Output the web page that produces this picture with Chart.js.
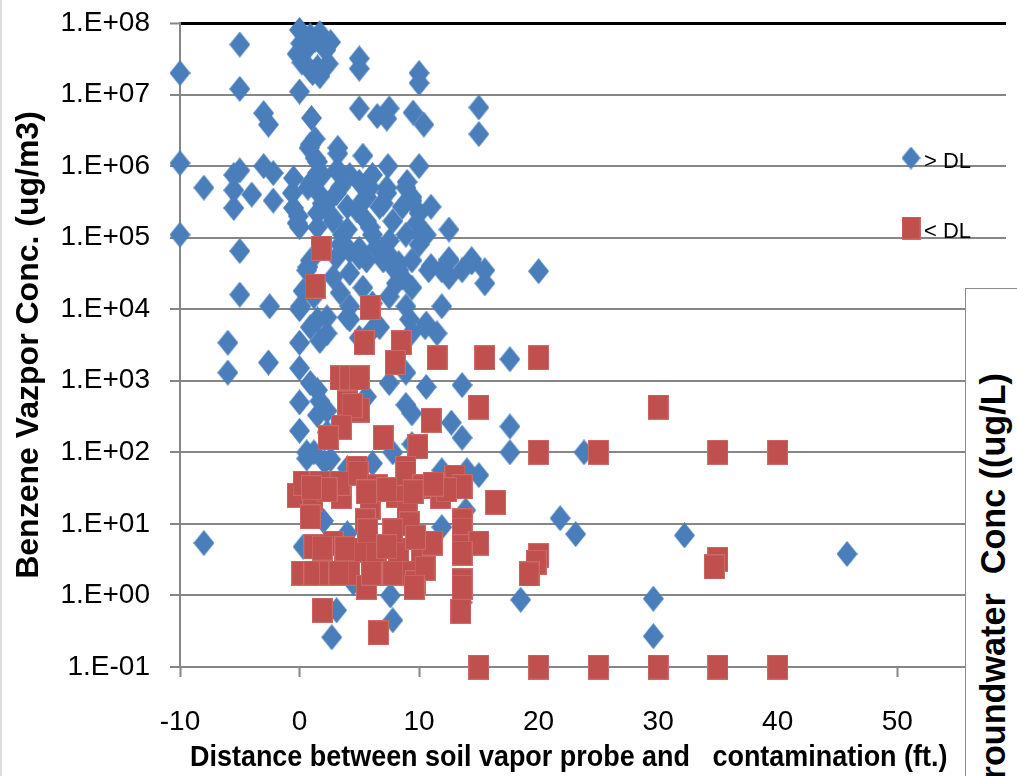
<!DOCTYPE html>
<html>
<head>
<meta charset="utf-8">
<script src="https://cdn.jsdelivr.net/npm/chart.js@4.4.1/dist/chart.umd.min.js"></script>
<style>
  html, body { margin: 0; padding: 0; background: #fff; overflow: hidden; }
  #wrap { position: relative; width: 1017px; height: 776px; border-left: 2px solid #dcdcdc; box-sizing: border-box; }
  #chart { position: absolute; left: 0; top: 0; }
  #xtitle {
    position: absolute; left: 188px; top: 738px;
    font: bold 30px 'Liberation Sans', sans-serif;
    white-space: pre; line-height: 36px; color: #000;
    transform-origin: 0 0;
  }
  #gwbox {
    position: absolute; left: 963px; top: 288px; width: 80px; height: 520px;
    border: 1.5px solid #8c8c8c; background: #fff; overflow: hidden;
  }
  #gwtitle {
    position: absolute; left: 10px; top: 784px; width: 700px;
    transform-origin: 0 0; transform: rotate(-90deg);
    text-align: right; white-space: pre;
    font: bold 34.2px 'Liberation Sans', sans-serif; line-height: 34px; color: #000;
  }
</style>
</head>
<body>
<div id="wrap">
  <canvas id="chart" width="1015" height="776"></canvas>
  <div id="xtitle">Distance between soil vapor probe and   contamination (ft.)</div>
  <div id="gwbox"><div id="gwtitle">Groundwater  Conc ((ug/L)</div></div>
</div>
<script>
// --- Data: [distance (ft), benzene vapor conc (ug/m3)] ---
const aboveDL = [
  [-10, 2e7], [-5, 5e7], [-5, 1.2e7], [-3, 5.5e6], [-2.6, 3.8e6],
  [0, 8e7], [0.1, 5.2e7], [-0.2, 3.7e7], [0.9, 6.7e7], [1.7, 7.2e7], [2.6, 5.4e7],
  [1.5, 2.4e7], [2.4, 2.7e7], [1.1, 2e7], [1.7, 1.8e7], [0.9, 2.2e7], [0, 1.1e7],
  [0.6, 4.3e7], [1.3, 5.8e7], [2.2, 4.2e7], [0.2, 2.8e7],
  [5, 3.2e7], [5, 2.3e7], [10, 2e7], [10, 1.45e7],
  [1, 4.7e6], [5, 6.4e6], [6.5, 5e6], [7.5, 6.4e6], [7.3, 4.6e6], [9.5, 5.6e6],
  [10.4, 3.8e6], [15, 6.6e6], [15, 2.8e6],
  [1.3, 2.4e6], [0.8, 1.8e6], [3.2, 1.8e6], [5.3, 1.4e6], [7.4, 1e6], [10, 1e6],
  [0.9, 2e6], [1.5, 1.15e6], [1.3, 1.3e6], [3.2, 1.5e6],
  [-10, 1.1e6], [-8, 5e5], [-5.5, 7.5e5], [-5, 8.7e5], [-5.5, 4.6e5], [-4, 4e5],
  [-5.5, 2.6e5], [-3, 1e6], [-2.2, 8e5], [-2.2, 3.3e5], [-10, 1.1e5], [-5, 6.5e4],
  [-0.5, 6.8e5], [-0.6, 4.2e5], [-0.5, 2.6e5], [-0.2, 1.6e5], [0.7, 5e5], [1.5, 8e5],
  [1.6, 4.2e5], [1.5, 2.2e5], [2.3, 3e5], [3.1, 8.7e5], [3.4, 5e5], [2.8, 1.7e5],
  [4, 2.7e5], [5, 6e5], [5.3, 3.3e5], [5.9, 5e5], [5.6, 1.7e5], [6.7, 2.7e5],
  [7.3, 4.2e5], [7.8, 1.7e5], [8.9, 5e5], [9.4, 3.3e5], [10, 2.2e5], [11, 2.7e5],
  [12.5, 1.3e5], [10.6, 1.1e5], [8.9, 1.1e5], [6.1, 1.1e5], [4, 1.3e5], [12.5, 5e4],
  [14.4, 5e4], [0.9, 5.8e5], [1.9, 7.5e5], [1.9, 3e5], [1.5, 1.4e5], [0, 1.4e5],
  [-0.1, 2e5], [3.4, 8e5], [3.1, 4.2e5], [2.8, 1.9e5], [3.6, 1.1e5], [5.6, 3.7e5],
  [4.8, 2.4e5], [5.9, 1.4e5], [7.3, 5e5], [7, 3e5], [7.5, 9e4], [9.4, 3.7e5],
  [8.6, 2.7e5], [9.8, 1.6e5], [10.2, 1.1e5], [4.2, 7.5e5], [6.1, 7.5e5], [9, 6e5],
  [10, 8e4], [9.4, 4.8e4], [8.6, 2.8e4], [7.8, 3.9e4], [7, 4.8e4], [6.4, 7.3e4],
  [5.6, 4.8e4], [5, 7e4], [4.2, 6.5e4], [3.4, 8e4], [0.9, 4.8e4], [0.6, 3.5e4],
  [0.3, 1.8e4], [0.1, 1.1e4], [-2.5, 1.1e4], [2.8, 2.8e4], [3.4, 1.7e4], [4.2, 1.1e4],
  [7.5, 1.5e4], [8.9, 1.1e4], [8.1, 2.3e4], [11.9, 1.1e4], [11.9, 3.5e4], [12.5, 4.8e4],
  [14.4, 4.5e4], [15.5, 3.5e4], [15.5, 2.3e4], [11, 4e4], [20, 3.4e4], [-5, 1.6e4],
  [3.1, 5.3e4], [5, 5.3e4], [7.5, 5.7e4], [8.3, 4.4e4], [10.8, 3.5e4], [12.5, 2.8e4],
  [1.2, 1.5e4], [2.3, 7.7e3], [0.9, 5.6e3], [4, 7.7e3], [5, 4e3], [4.2, 3.2e4],
  [5.3, 2e4], [6.1, 1.2e4], [6.7, 5.6e3], [8.3, 3.5e4], [9.4, 2e4], [10.6, 6.3e3],
  [9.4, 4.7e3], [13.6, 3.5e4], [0.7, 3.9e4], [0, 1e4], [1.5, 7.2e3], [2.3, 4.6e3],
  [4.2, 7.2e3], [6.1, 5.2e3], [9.2, 7.2e3], [10.5, 5.6e3], [11.5, 4.6e3],
  [-6, 3.4e3], [-6, 1.3e3], [-2.6, 1.8e3], [0, 3.4e3], [0, 1.5e3], [0, 5e2], [0, 2e2],
  [0.6, 1e2], [1.7, 3.6e3], [1.5, 7.4e2], [1.5, 3.3e2], [2.3, 1.9e2], [17.6, 2e3],
  [10.6, 8.2e2], [13.6, 8.7e2], [8.9, 4.6e2], [9.4, 3.5e2], [12.7, 2.6e2], [13.6, 1.6e2],
  [17.6, 2.3e2], [17.6, 1e2], [15, 48], [4, 60], [6.1, 70], [8.9, 1.3e3], [7.5, 9.3e2],
  [4, 6.7e2], [5.6, 6e2], [0.9, 9.3e2], [1.7, 5.2e2], [2.3, 3.8e2], [1.2, 1e2],
  [2.6, 80], [0.6, 82], [2.1, 73], [7.8, 1e2], [9.4, 1.3e2], [14, 56], [11.9, 56],
  [23.8, 1e2],
  [-8, 5.4], [2, 11], [13.9, 15.5], [11.9, 9], [21.8, 12], [23.1, 7.2], [32.2, 6.9],
  [45.8, 3.8], [0.3, 4.8], [4, 7.4], [4.5, 1.5], [7.6, 1], [3.1, 0.62], [7.8, 0.45],
  [2.7, 0.26], [18.5, 0.87], [13.6, 0.8], [29.6, 0.9], [29.6, 0.27]
];

const belowDL = [
  [1.8, 7.1e4], [1.3, 2.1e4], [5.9, 1.06e4], [5.4, 3.4e3], [8.5, 3.4e3], [8, 1.8e3],
  [11.5, 2.1e3], [15.5, 2.1e3], [20, 2.1e3], [3.4, 1.1e3], [4.2, 1.1e3], [5, 1.1e3],
  [4, 4.9e2], [5, 3.9e2], [4.4, 4.5e2], [3.5, 2.25e2], [2.4, 1.6e2], [7, 1.6e2],
  [11, 2.8e2], [15, 4.3e2], [30, 4.3e2], [9.9, 1.2e2], [20, 100], [25, 100], [35, 100],
  [40, 100], [4.8, 60], [8.9, 60],
  [-0.2, 25], [0.3, 37], [1.7, 37], [1.1, 22], [3.5, 24], [3.4, 37], [4.9, 51],
  [6.5, 33], [8.1, 25], [8.9, 51], [10.3, 33], [11.8, 24], [13, 45], [13.6, 33],
  [16.4, 20], [0.9, 12.5], [5.9, 17], [5.5, 11], [9, 14], [9.2, 10], [13.6, 11],
  [13.6, 8.2], [2.3, 30], [5.6, 28], [7.3, 30], [9.5, 28], [12.3, 30], [11.2, 36], [1, 32],
  [1.2, 4.8], [2.8, 5.4], [4.8, 4.3], [6.4, 4.3], [8.3, 4.3], [10.2, 4.3], [11.1, 5.4],
  [13.6, 4.8], [15, 5.4], [5.7, 8], [7.8, 8], [9.7, 6.5], [13.6, 3.9], [3.8, 4.5],
  [7.3, 4.8], [1.9, 4.6],
  [0.2, 2.05], [1.2, 2.05], [2.5, 2.05], [4.2, 2.05], [5.6, 1.3], [7, 2.05], [8.9, 2.05],
  [9.7, 1.5], [13.6, 1.6], [13.6, 1.3], [3.3, 2.05], [6, 2.05], [7.8, 2.05], [10.5, 2.4],
  [20, 3.6], [19.8, 2.9], [19.2, 2.0], [35, 3.2], [34.7, 2.5],
  [1.9, 0.62], [13.5, 0.6], [6.6, 0.3], [9.6, 1.3],
  [15, 0.1], [20, 0.1], [25, 0.1], [30, 0.1], [35, 0.1], [40, 0.1]
];

const xTicks = [-10, 0, 10, 20, 30, 40, 50];
const yExponents = [-1, 0, 1, 2, 3, 4, 5, 6, 7, 8];
const legendLabels = ['> DL', '< DL'];

const BLUE = '#4A7EBB';
const RED = '#C0504D';
const GRID = '#868686';
const FONT = "'Liberation Sans', sans-serif";

// marker bitmaps (slightly taller than wide, like the original)
function makeMarker(w, h, color, diamond) {
  const c = document.createElement('canvas');
  c.width = w; c.height = h;
  const g = c.getContext('2d');
  g.fillStyle = color;
  if (diamond) {
    g.beginPath();
    g.moveTo(w / 2, 0); g.lineTo(w, h / 2); g.lineTo(w / 2, h); g.lineTo(0, h / 2);
    g.closePath(); g.fill();
  } else {
    g.fillRect(0, 0, w, h);
    g.strokeStyle = '#CB6A67';
    g.lineWidth = 1;
    g.strokeRect(0.5, 0.5, w - 1, h - 1);
  }
  return c;
}
const diamondMark = makeMarker(21, 26, BLUE, true);
const squareMark = makeMarker(21, 25, RED, false);
const legendDiamond = makeMarker(19, 23, BLUE, true);
const legendSquare = makeMarker(19, 23, RED, false);

function expLabel(v) {
  const e = Math.round(Math.log10(v));
  return '1.E' + (e < 0 ? '-' : '+') + String(Math.abs(e)).padStart(2, '0');
}

// legend drawn inside the plot, as in the original
const dlLegend = {
  id: 'dlLegend',
  afterDraw(chart) {
    const ctx = chart.ctx;
    const marks = [legendDiamond, legendSquare];
    const ys = [158, 228];
    ctx.save();
    ctx.font = '22px ' + FONT;
    ctx.fillStyle = '#000';
    ctx.textBaseline = 'middle';
    legendLabels.forEach((t, i) => {
      const m = marks[i];
      ctx.drawImage(m, 909 - m.width / 2, ys[i] - m.height / 2);
      ctx.fillText(t, 922, ys[i] + 4);
    });
    ctx.restore();
  }
};

new Chart(document.getElementById('chart'), {
  type: 'scatter',
  data: {
    datasets: [
      {
        label: legendLabels[1],
        data: belowDL.map(([x, y]) => ({ x, y })),
        pointStyle: squareMark, pointRadius: 10, order: 0, clip: false
      },
      {
        label: legendLabels[0],
        data: aboveDL.map(([x, y]) => ({ x, y })),
        pointStyle: diamondMark, pointRadius: 10, order: 1, clip: false
      }
    ]
  },
  options: {
    responsive: false,
    animation: false,
    layout: { padding: { top: 23, right: 0, left: 0, bottom: 0 } },
    plugins: { legend: { display: false }, tooltip: { enabled: false } },
    scales: {
      x: {
        type: 'linear', min: -10, max: 59.1,
        afterBuildTicks: s => { s.ticks = xTicks.map(v => ({ value: v })); },
        afterFit: s => { s.height = 109; },
        ticks: { font: { family: FONT, size: 28 }, color: '#000', padding: 28, maxRotation: 0, autoSkip: false },
        grid: { drawOnChartArea: false, tickLength: 10, tickColor: GRID, tickWidth: 2 },
        border: { color: GRID, width: 2 }
      },
      y: {
        type: 'logarithmic', min: 0.1, max: 1e8,
        afterBuildTicks: s => { s.ticks = yExponents.map(e => ({ value: Math.pow(10, e) })); },
        afterFit: s => { s.width = 178; s.paddingTop = 0; s.paddingBottom = 0; },
        ticks: { callback: v => expLabel(v), font: { family: FONT, size: 28 }, color: '#000', padding: 20, autoSkip: false },
        grid: {
          color: c => (c.tick && c.tick.value === 1e8 ? '#000' : GRID),
          lineWidth: c => (c.tick && c.tick.value === 1e8 ? 3 : 2),
          tickLength: 10, tickColor: GRID, tickWidth: 2
        },
        border: { color: GRID, width: 2 },
        title: {
          display: true, text: 'Benzene Vazpor Conc. (ug/m3)', color: '#000',
          font: { family: FONT, size: 32, weight: 'bold' },
          padding: { top: 8, bottom: 0 }
        }
      }
    }
  },
  plugins: [dlLegend]
});

// condense the x title to the original's narrow face
const xt = document.getElementById('xtitle');
xt.style.transform = 'scaleX(' + (757 / xt.offsetWidth) + ')';
</script>
</body>
</html>
